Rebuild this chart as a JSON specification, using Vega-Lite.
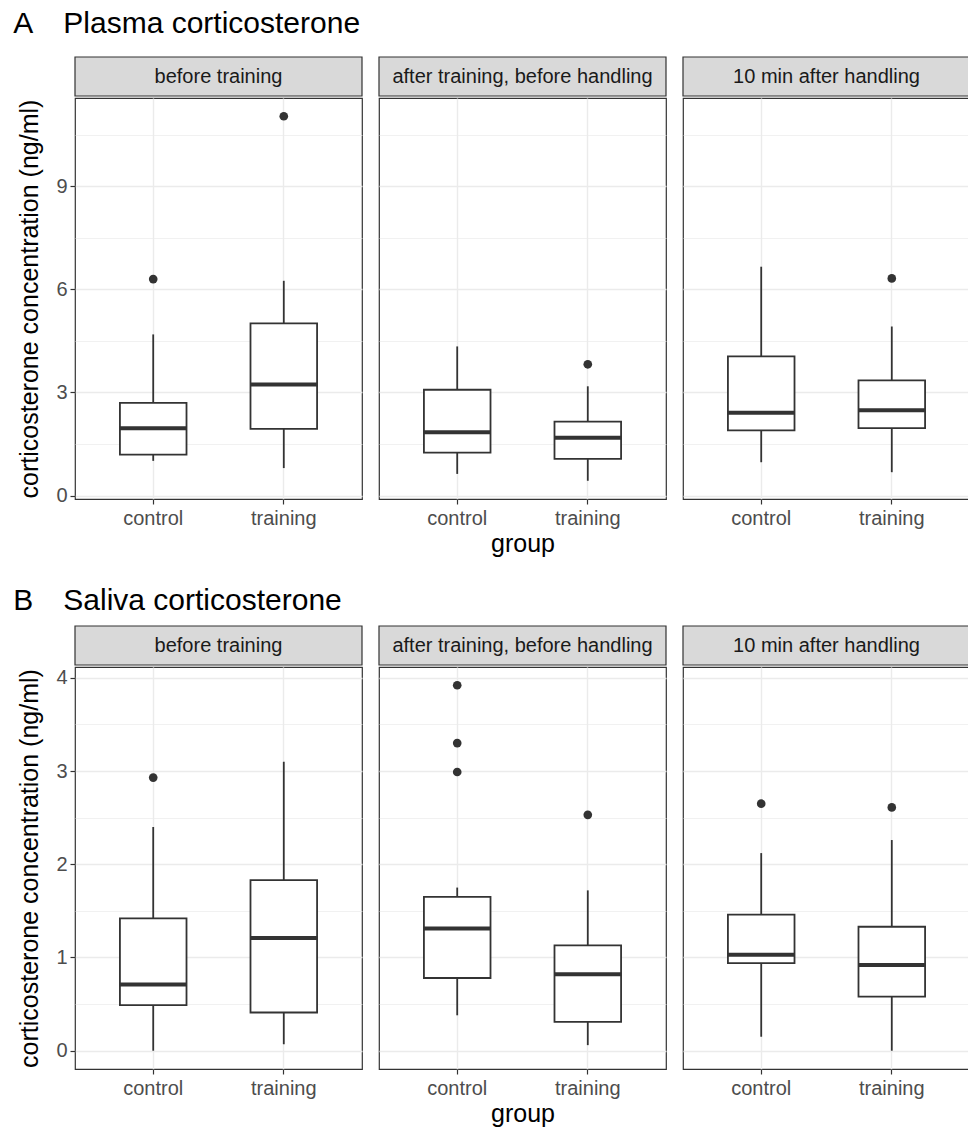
{
  "$schema": "https://vega.github.io/schema/vega-lite/v6.json",
  "padding": {"left": 13, "top": 9, "right": 0, "bottom": 0},
  "background": "white",
  "config": {
    "font": "Liberation Sans",
    "view": {"stroke": "#333333", "strokeWidth": 1.2},
    "axis": {"labelFont": "Liberation Sans", "labelFontSize": 20, "labelColor": "#4D4D4D", "titleFont": "Liberation Sans", "titleFontSize": 25, "titleColor": "#000000", "titleFontWeight": "normal", "tickColor": "#333333", "tickSize": 5, "tickWidth": 1.2, "domain": false, "gridColor": "#EBEBEB"},
    "title": {"font": "Liberation Sans", "fontSize": 30, "fontWeight": "normal", "anchor": "start", "color": "#000000", "frame": "bounds", "dx": -4}
  },
  "datasets": {
    "plasma": [
      {"cond": "before training", "group": "control", "lo": 1.01, "q1": 1.19, "med": 1.96, "q3": 2.70, "hi": 4.69},
      {"cond": "before training", "group": "training", "lo": 0.80, "q1": 1.94, "med": 3.23, "q3": 5.01, "hi": 6.25},
      {"cond": "after training, before handling", "group": "control", "lo": 0.63, "q1": 1.25, "med": 1.84, "q3": 3.08, "hi": 4.34},
      {"cond": "after training, before handling", "group": "training", "lo": 0.43, "q1": 1.07, "med": 1.68, "q3": 2.15, "hi": 3.18},
      {"cond": "10 min after handling", "group": "control", "lo": 0.97, "q1": 1.90, "med": 2.41, "q3": 4.05, "hi": 6.66},
      {"cond": "10 min after handling", "group": "training", "lo": 0.68, "q1": 1.96, "med": 2.48, "q3": 3.35, "hi": 4.92},
      {"cond": "before training", "group": "control", "out": 6.30},
      {"cond": "before training", "group": "training", "out": 11.04},
      {"cond": "after training, before handling", "group": "training", "out": 3.82},
      {"cond": "10 min after handling", "group": "training", "out": 6.32}
    ],
    "saliva": [
      {"cond": "before training", "group": "control", "lo": 0.0, "q1": 0.49, "med": 0.71, "q3": 1.42, "hi": 2.40},
      {"cond": "before training", "group": "training", "lo": 0.07, "q1": 0.41, "med": 1.21, "q3": 1.83, "hi": 3.10},
      {"cond": "after training, before handling", "group": "control", "lo": 0.38, "q1": 0.78, "med": 1.31, "q3": 1.65, "hi": 1.75},
      {"cond": "after training, before handling", "group": "training", "lo": 0.06, "q1": 0.31, "med": 0.82, "q3": 1.13, "hi": 1.72},
      {"cond": "10 min after handling", "group": "control", "lo": 0.15, "q1": 0.94, "med": 1.03, "q3": 1.46, "hi": 2.12},
      {"cond": "10 min after handling", "group": "training", "lo": 0.0, "q1": 0.58, "med": 0.92, "q3": 1.33, "hi": 2.26},
      {"cond": "before training", "group": "control", "out": 2.93},
      {"cond": "after training, before handling", "group": "control", "out": 3.92},
      {"cond": "after training, before handling", "group": "control", "out": 3.30},
      {"cond": "after training, before handling", "group": "control", "out": 2.99},
      {"cond": "after training, before handling", "group": "training", "out": 2.53},
      {"cond": "10 min after handling", "group": "control", "out": 2.65},
      {"cond": "10 min after handling", "group": "training", "out": 2.61}
    ],
    "strips": [
      {"cond": "before training"},
      {"cond": "after training, before handling"},
      {"cond": "10 min after handling"}
    ]
  },
  "spacing": 29,
  "vconcat": [
    {
      "title": {"text": "A\u2003Plasma corticosterone", "offset": 17},
      "spacing": 15,
      "hconcat": [
        {"spacing": 0, "vconcat": [
          {"width": 287, "height": 39, "data": {"name": "strips"}, "transform": [{"filter": "datum.cond == 'before training'"}],
           "layer": [
             {"mark": {"type": "rect", "fill": "#D9D9D9", "stroke": "#333333", "strokeWidth": 1.2}},
             {"mark": {"type": "text", "fontSize": 20, "color": "#1A1A1A", "font": "Liberation Sans"}, "encoding": {"text": {"field": "cond"}}}
           ]},
          {"width": 287, "height": 401, "data": {"name": "plasma"}, "transform": [{"filter": "datum.cond == 'before training'"}],
           "encoding": {
             "x": {"field": "group", "type": "nominal", "scale": {"domain": ["control", "training"], "paddingInner": 0.49, "paddingOuter": 0.344}, "axis": {"title": null, "labelAngle": 0, "bandPosition": 0.5, "grid": true, "gridWidth": 1.4, "labelPadding": 4}}
           },
           "layer": [
             {"transform": [{"filter": "datum.lo != null"}], "mark": {"type": "rule", "color": "#333333", "strokeWidth": 1.8},
              "encoding": {"y": {"field": "lo", "type": "quantitative", "scale": {"domain": [-0.10, 11.57], "nice": false, "zero": false},
                "axis": {"title": "corticosterone concentration (ng/ml)", "values": [0, 1.5, 3, 4.5, 6, 7.5, 9, 10.5], "format": "~g", "labelExpr": "datum.value % 3 == 0 ? datum.label : ''", "gridWidth": {"condition": {"test": "datum.value % 3 != 0", "value": 0.7}, "value": 1.4}, "tickOpacity": {"condition": {"test": "datum.value % 3 != 0", "value": 0}, "value": 1}, "titlePadding": 13, "labelPadding": 3}},
                "y2": {"field": "hi"}}},
             {"transform": [{"filter": "datum.lo != null"}], "mark": {"type": "bar", "fill": "white", "stroke": "#333333", "strokeWidth": 1.8},
              "encoding": {"y": {"field": "q1", "type": "quantitative"}, "y2": {"field": "q3"}}},
             {"transform": [{"filter": "datum.lo != null"}], "mark": {"type": "bar", "fill": "#333333", "stroke": "#333333", "strokeWidth": 4},
              "encoding": {"y": {"field": "med", "type": "quantitative"}, "y2": {"field": "med"}}},
             {"transform": [{"filter": "datum.out != null"}], "mark": {"type": "point", "filled": true, "color": "#333333", "size": 75, "opacity": 1},
              "encoding": {"y": {"field": "out", "type": "quantitative"}}}
           ]}
        ]},
        {"spacing": 0, "vconcat": [
          {"width": 287, "height": 39, "data": {"name": "strips"}, "transform": [{"filter": "datum.cond == 'after training, before handling'"}],
           "layer": [
             {"mark": {"type": "rect", "fill": "#D9D9D9", "stroke": "#333333", "strokeWidth": 1.2}},
             {"mark": {"type": "text", "fontSize": 20, "color": "#1A1A1A", "font": "Liberation Sans"}, "encoding": {"text": {"field": "cond"}}}
           ]},
          {"width": 287, "height": 401, "data": {"name": "plasma"}, "transform": [{"filter": "datum.cond == 'after training, before handling'"}],
           "encoding": {
             "x": {"field": "group", "type": "nominal", "scale": {"domain": ["control", "training"], "paddingInner": 0.49, "paddingOuter": 0.344}, "axis": {"title": "group", "labelAngle": 0, "bandPosition": 0.5, "grid": true, "gridWidth": 1.4, "labelPadding": 4, "titlePadding": 3}}
           },
           "layer": [
             {"transform": [{"filter": "datum.lo != null"}], "mark": {"type": "rule", "color": "#333333", "strokeWidth": 1.8},
              "encoding": {"y": {"field": "lo", "type": "quantitative", "scale": {"domain": [-0.10, 11.57], "nice": false, "zero": false},
                "axis": {"title": null, "labels": false, "ticks": false, "values": [0, 1.5, 3, 4.5, 6, 7.5, 9, 10.5], "gridWidth": {"condition": {"test": "datum.value % 3 != 0", "value": 0.7}, "value": 1.4}}},
                "y2": {"field": "hi"}}},
             {"transform": [{"filter": "datum.lo != null"}], "mark": {"type": "bar", "fill": "white", "stroke": "#333333", "strokeWidth": 1.8},
              "encoding": {"y": {"field": "q1", "type": "quantitative"}, "y2": {"field": "q3"}}},
             {"transform": [{"filter": "datum.lo != null"}], "mark": {"type": "bar", "fill": "#333333", "stroke": "#333333", "strokeWidth": 4},
              "encoding": {"y": {"field": "med", "type": "quantitative"}, "y2": {"field": "med"}}},
             {"transform": [{"filter": "datum.out != null"}], "mark": {"type": "point", "filled": true, "color": "#333333", "size": 75, "opacity": 1},
              "encoding": {"y": {"field": "out", "type": "quantitative"}}}
           ]}
        ]},
        {"spacing": 0, "vconcat": [
          {"width": 287, "height": 39, "data": {"name": "strips"}, "transform": [{"filter": "datum.cond == '10 min after handling'"}],
           "layer": [
             {"mark": {"type": "rect", "fill": "#D9D9D9", "stroke": "#333333", "strokeWidth": 1.2}},
             {"mark": {"type": "text", "fontSize": 20, "color": "#1A1A1A", "font": "Liberation Sans"}, "encoding": {"text": {"field": "cond"}}}
           ]},
          {"width": 287, "height": 401, "data": {"name": "plasma"}, "transform": [{"filter": "datum.cond == '10 min after handling'"}],
           "encoding": {
             "x": {"field": "group", "type": "nominal", "scale": {"domain": ["control", "training"], "paddingInner": 0.49, "paddingOuter": 0.344}, "axis": {"title": null, "labelAngle": 0, "bandPosition": 0.5, "grid": true, "gridWidth": 1.4, "labelPadding": 4}}
           },
           "layer": [
             {"transform": [{"filter": "datum.lo != null"}], "mark": {"type": "rule", "color": "#333333", "strokeWidth": 1.8},
              "encoding": {"y": {"field": "lo", "type": "quantitative", "scale": {"domain": [-0.10, 11.57], "nice": false, "zero": false},
                "axis": {"title": null, "labels": false, "ticks": false, "values": [0, 1.5, 3, 4.5, 6, 7.5, 9, 10.5], "gridWidth": {"condition": {"test": "datum.value % 3 != 0", "value": 0.7}, "value": 1.4}}},
                "y2": {"field": "hi"}}},
             {"transform": [{"filter": "datum.lo != null"}], "mark": {"type": "bar", "fill": "white", "stroke": "#333333", "strokeWidth": 1.8},
              "encoding": {"y": {"field": "q1", "type": "quantitative"}, "y2": {"field": "q3"}}},
             {"transform": [{"filter": "datum.lo != null"}], "mark": {"type": "bar", "fill": "#333333", "stroke": "#333333", "strokeWidth": 4},
              "encoding": {"y": {"field": "med", "type": "quantitative"}, "y2": {"field": "med"}}},
             {"transform": [{"filter": "datum.out != null"}], "mark": {"type": "point", "filled": true, "color": "#333333", "size": 75, "opacity": 1},
              "encoding": {"y": {"field": "out", "type": "quantitative"}}}
           ]}
        ]}
      ]
    },
    {
      "title": {"text": "B\u2003Saliva corticosterone", "offset": 9},
      "spacing": 15,
      "hconcat": [
        {"spacing": 0, "vconcat": [
          {"width": 287, "height": 39, "data": {"name": "strips"}, "transform": [{"filter": "datum.cond == 'before training'"}],
           "layer": [
             {"mark": {"type": "rect", "fill": "#D9D9D9", "stroke": "#333333", "strokeWidth": 1.2}},
             {"mark": {"type": "text", "fontSize": 20, "color": "#1A1A1A", "font": "Liberation Sans"}, "encoding": {"text": {"field": "cond"}}}
           ]},
          {"width": 287, "height": 402, "data": {"name": "saliva"}, "transform": [{"filter": "datum.cond == 'before training'"}],
           "encoding": {
             "x": {"field": "group", "type": "nominal", "scale": {"domain": ["control", "training"], "paddingInner": 0.49, "paddingOuter": 0.344}, "axis": {"title": null, "labelAngle": 0, "bandPosition": 0.5, "grid": true, "gridWidth": 1.4, "labelPadding": 4}}
           },
           "layer": [
             {"transform": [{"filter": "datum.lo != null"}], "mark": {"type": "rule", "color": "#333333", "strokeWidth": 1.8},
              "encoding": {"y": {"field": "lo", "type": "quantitative", "scale": {"domain": [-0.196, 4.116], "nice": false, "zero": false},
                "axis": {"title": "corticosterone concentration (ng/ml)", "values": [0, 0.5, 1, 1.5, 2, 2.5, 3, 3.5, 4], "format": "~g", "labelExpr": "datum.value % 1 == 0 ? datum.label : ''", "gridWidth": {"condition": {"test": "datum.value % 1 != 0", "value": 0.7}, "value": 1.4}, "tickOpacity": {"condition": {"test": "datum.value % 1 != 0", "value": 0}, "value": 1}, "titlePadding": 13, "labelPadding": 3}},
                "y2": {"field": "hi"}}},
             {"transform": [{"filter": "datum.lo != null"}], "mark": {"type": "bar", "fill": "white", "stroke": "#333333", "strokeWidth": 1.8},
              "encoding": {"y": {"field": "q1", "type": "quantitative"}, "y2": {"field": "q3"}}},
             {"transform": [{"filter": "datum.lo != null"}], "mark": {"type": "bar", "fill": "#333333", "stroke": "#333333", "strokeWidth": 4},
              "encoding": {"y": {"field": "med", "type": "quantitative"}, "y2": {"field": "med"}}},
             {"transform": [{"filter": "datum.out != null"}], "mark": {"type": "point", "filled": true, "color": "#333333", "size": 75, "opacity": 1},
              "encoding": {"y": {"field": "out", "type": "quantitative"}}}
           ]}
        ]},
        {"spacing": 0, "vconcat": [
          {"width": 287, "height": 39, "data": {"name": "strips"}, "transform": [{"filter": "datum.cond == 'after training, before handling'"}],
           "layer": [
             {"mark": {"type": "rect", "fill": "#D9D9D9", "stroke": "#333333", "strokeWidth": 1.2}},
             {"mark": {"type": "text", "fontSize": 20, "color": "#1A1A1A", "font": "Liberation Sans"}, "encoding": {"text": {"field": "cond"}}}
           ]},
          {"width": 287, "height": 402, "data": {"name": "saliva"}, "transform": [{"filter": "datum.cond == 'after training, before handling'"}],
           "encoding": {
             "x": {"field": "group", "type": "nominal", "scale": {"domain": ["control", "training"], "paddingInner": 0.49, "paddingOuter": 0.344}, "axis": {"title": "group", "labelAngle": 0, "bandPosition": 0.5, "grid": true, "gridWidth": 1.4, "labelPadding": 4, "titlePadding": 3}}
           },
           "layer": [
             {"transform": [{"filter": "datum.lo != null"}], "mark": {"type": "rule", "color": "#333333", "strokeWidth": 1.8},
              "encoding": {"y": {"field": "lo", "type": "quantitative", "scale": {"domain": [-0.196, 4.116], "nice": false, "zero": false},
                "axis": {"title": null, "labels": false, "ticks": false, "values": [0, 0.5, 1, 1.5, 2, 2.5, 3, 3.5, 4], "gridWidth": {"condition": {"test": "datum.value % 1 != 0", "value": 0.7}, "value": 1.4}}},
                "y2": {"field": "hi"}}},
             {"transform": [{"filter": "datum.lo != null"}], "mark": {"type": "bar", "fill": "white", "stroke": "#333333", "strokeWidth": 1.8},
              "encoding": {"y": {"field": "q1", "type": "quantitative"}, "y2": {"field": "q3"}}},
             {"transform": [{"filter": "datum.lo != null"}], "mark": {"type": "bar", "fill": "#333333", "stroke": "#333333", "strokeWidth": 4},
              "encoding": {"y": {"field": "med", "type": "quantitative"}, "y2": {"field": "med"}}},
             {"transform": [{"filter": "datum.out != null"}], "mark": {"type": "point", "filled": true, "color": "#333333", "size": 75, "opacity": 1},
              "encoding": {"y": {"field": "out", "type": "quantitative"}}}
           ]}
        ]},
        {"spacing": 0, "vconcat": [
          {"width": 287, "height": 39, "data": {"name": "strips"}, "transform": [{"filter": "datum.cond == '10 min after handling'"}],
           "layer": [
             {"mark": {"type": "rect", "fill": "#D9D9D9", "stroke": "#333333", "strokeWidth": 1.2}},
             {"mark": {"type": "text", "fontSize": 20, "color": "#1A1A1A", "font": "Liberation Sans"}, "encoding": {"text": {"field": "cond"}}}
           ]},
          {"width": 287, "height": 402, "data": {"name": "saliva"}, "transform": [{"filter": "datum.cond == '10 min after handling'"}],
           "encoding": {
             "x": {"field": "group", "type": "nominal", "scale": {"domain": ["control", "training"], "paddingInner": 0.49, "paddingOuter": 0.344}, "axis": {"title": null, "labelAngle": 0, "bandPosition": 0.5, "grid": true, "gridWidth": 1.4, "labelPadding": 4}}
           },
           "layer": [
             {"transform": [{"filter": "datum.lo != null"}], "mark": {"type": "rule", "color": "#333333", "strokeWidth": 1.8},
              "encoding": {"y": {"field": "lo", "type": "quantitative", "scale": {"domain": [-0.196, 4.116], "nice": false, "zero": false},
                "axis": {"title": null, "labels": false, "ticks": false, "values": [0, 0.5, 1, 1.5, 2, 2.5, 3, 3.5, 4], "gridWidth": {"condition": {"test": "datum.value % 1 != 0", "value": 0.7}, "value": 1.4}}},
                "y2": {"field": "hi"}}},
             {"transform": [{"filter": "datum.lo != null"}], "mark": {"type": "bar", "fill": "white", "stroke": "#333333", "strokeWidth": 1.8},
              "encoding": {"y": {"field": "q1", "type": "quantitative"}, "y2": {"field": "q3"}}},
             {"transform": [{"filter": "datum.lo != null"}], "mark": {"type": "bar", "fill": "#333333", "stroke": "#333333", "strokeWidth": 4},
              "encoding": {"y": {"field": "med", "type": "quantitative"}, "y2": {"field": "med"}}},
             {"transform": [{"filter": "datum.out != null"}], "mark": {"type": "point", "filled": true, "color": "#333333", "size": 75, "opacity": 1},
              "encoding": {"y": {"field": "out", "type": "quantitative"}}}
           ]}
        ]}
      ]
    }
  ]
}
